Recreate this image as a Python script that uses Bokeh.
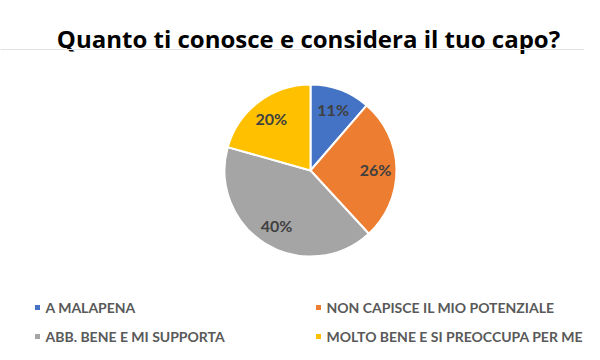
import numpy as np
from bokeh.plotting import figure
from bokeh.models import Range1d, ColumnDataSource, Span
from bokeh.core.properties import value
from bokeh.embed import file_html
from bokeh.resources import INLINE

# ---- data ----
categories = ["A MALAPENA", "NON CAPISCE IL MIO POTENZIALE",
              "ABB. BENE E MI SUPPORTA", "MOLTO BENE E SI PREOCCUPA PER ME"]
values = [11, 26, 40, 20]
labels = ["11%", "26%", "40%", "20%"]
colors = ["#4472C4", "#ED7D31", "#A5A5A5", "#FFC000"]
title = "Quanto ti conosce e considera il tuo capo?"

H = 360  # reference height; data y = H - pixel y
W_FIG, H_FIG = 584, 344

p = figure(width=W_FIG, height=H_FIG, output_backend="svg", toolbar_location=None,
           x_range=Range1d(0, W_FIG), y_range=Range1d(H - H_FIG, H),
           min_border=0)
p.axis.visible = False
p.grid.visible = False
p.outline_line_color = None
p.background_fill_color = "white"
p.border_fill_color = "white"

# title
p.text(x=[308], y=[H - 38], text=[title], text_align="center", text_baseline="alphabetic",
       text_font=value("Open Sans"), text_font_style="bold", text_font_size="24px",
       text_color="#000000")
p.add_layout(Span(location=H - 49, dimension="width", line_color="#e3e3e3", line_width=1))

# pie
cx, cy, R = 310, H - 170, 86
vals = np.array(values, dtype=float)
frac = vals / vals.sum()
cum = np.concatenate([[0], np.cumsum(frac)])
start = np.pi / 2 - 2 * np.pi * cum[:-1]
end = np.pi / 2 - 2 * np.pi * cum[1:]
src = ColumnDataSource(dict(start=start, end=end, color=colors, cat=categories))
p.wedge(x=cx, y=cy, radius=R, start_angle="start", end_angle="end", direction="clock",
        fill_color="color", line_color="white", line_width=2, source=src)

mid = np.pi / 2 - 2 * np.pi * (cum[:-1] + cum[1:]) / 2
lr = 65
p.text(x=cx + lr * np.cos(mid), y=cy + lr * np.sin(mid), text=labels,
       text_align="center", text_baseline="middle", text_font=value("Lato"),
       text_font_style="bold", text_font_size="16px", text_color="#404040")

# legend
leg_x = [37, 318, 37, 318]
leg_y = [H - 307, H - 307, H - 336, H - 336]
p.scatter(x=leg_x, y=leg_y, marker="square", size=5, fill_color=colors, line_color=None)
p.text(x=[x + 8 for x in leg_x], y=leg_y, text=categories, text_align="left",
       text_baseline="middle", text_font=value("Lato"), text_font_style="bold",
       text_font_size="14px", text_color="#595959")

open("out.html", "w").write(file_html(p, INLINE))
